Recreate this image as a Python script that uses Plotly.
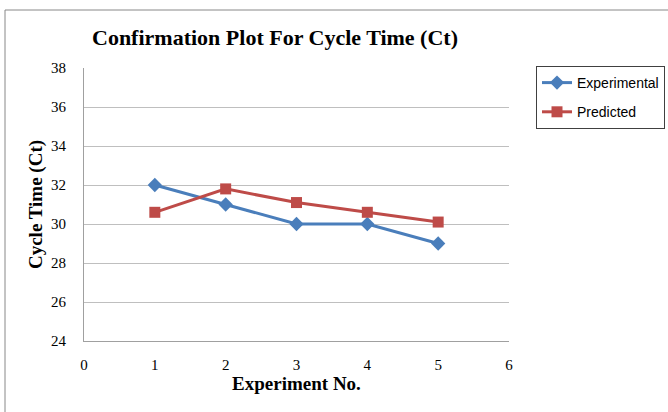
import plotly.graph_objects as go

experiments = [1, 2, 3, 4, 5]
experimental = [32, 31, 30, 30, 29]
predicted = [30.6, 31.8, 31.1, 30.6, 30.1]
y_ticks = [24, 26, 28, 30, 32, 34, 36, 38]
x_ticks = [0, 1, 2, 3, 4, 5, 6]

serif = "Liberation Serif, Times New Roman, serif"

fig = go.Figure()
fig.add_trace(go.Scatter(
    x=experiments, y=experimental, name="Experimental", mode="lines+markers",
    legendgroup="a",
    line=dict(color="#4A7EBB", width=3),
    marker=dict(symbol="diamond", size=11, color="#4A7EBB"),
))
fig.add_trace(go.Scatter(
    x=experiments, y=predicted, name="Predicted", mode="lines+markers",
    legendgroup="b",
    line=dict(color="#BE4B48", width=3),
    marker=dict(symbol="square", size=11, color="#BE4B48"),
))

fig.update_layout(
    width=668, height=412,
    margin=dict(l=84, r=159, t=68, b=71, autoexpand=False),
    paper_bgcolor="white", plot_bgcolor="white",
    title=dict(text="<b>Confirmation Plot For Cycle Time (Ct)</b>",
               font=dict(family=serif, size=22, color="black"),
               x=(275 - 84) / 425, xref="paper", xanchor="center",
               y=1 - 37 / 412, yref="container", yanchor="middle"),
    xaxis=dict(range=[0, 6], tickvals=x_ticks, showgrid=False,
               showline=True, linecolor="#A0A0A0", linewidth=1,
               ticks="outside", ticklen=10, tickcolor="rgba(0,0,0,0)",
               zeroline=False,
               tickfont=dict(family=serif, size=15, color="black"),
               title=dict(text="<b>Experiment No.</b>",
                          font=dict(family=serif, size=19, color="black"),
                          standoff=4)),
    yaxis=dict(range=[24, 38], tickvals=y_ticks, showgrid=True,
               gridcolor="#BFBFBF", gridwidth=1,
               showline=True, linecolor="#A0A0A0", linewidth=1,
               ticks="outside", ticklen=14, tickcolor="rgba(0,0,0,0)",
               zeroline=False,
               tickfont=dict(family=serif, size=15, color="black"),
               title=dict(text="<b>Cycle Time (Ct)</b>",
                          font=dict(family=serif, size=19, color="black"),
                          standoff=3)),
    legend=dict(xref="container", yref="container",
                x=536 / 668, y=1 - 66 / 412, xanchor="left", yanchor="top",
                bordercolor="#404040", borderwidth=1, bgcolor="white",
                font=dict(family="Liberation Sans, Arial, sans-serif", size=14, color="black"),
                tracegroupgap=8),
    shapes=[dict(type="rect", xref="paper", yref="paper",
                 x0=(5 - 84) / 425, x1=1.6, y0=-0.5, y1=1 + (68 - 10) / 273,
                 line=dict(color="#888888", width=1), layer="below")],
)

fig.write_html("out.html")
